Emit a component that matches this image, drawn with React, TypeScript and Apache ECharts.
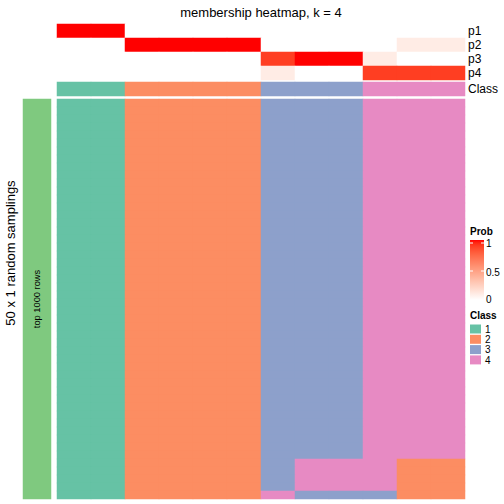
import React, { useEffect, useRef } from "react";
import * as echarts from "echarts";

// ---- data ----
const samples = ["s1", "s2", "s3", "s4", "s5", "s6", "s7", "s8", "s9", "s10", "s11", "s12"];
const probLevels = ["p1", "p2", "p3", "p4"];
const p1 = [1, 1, 0, 0, 0, 0, 0, 0, 0, 0, 0, 0];
const p2 = [0, 0, 1, 1, 1, 1, 0, 0, 0, 0, 0.1, 0.1];
const p3 = [0, 0, 0, 0, 0, 0, 0.9, 1, 1, 0.1, 0, 0];
const p4 = [0, 0, 0, 0, 0, 0, 0.1, 0, 0, 0.9, 0.9, 0.9];
const consensusClass = [1, 1, 2, 2, 2, 2, 3, 3, 3, 4, 4, 4];
// 50 random samplings: class assigned to each sample (one char per sample)
const samplingRows: string[] = [
  "112222333444", "112222333444", "112222333444", "112222333444", "112222333444",
  "112222333444", "112222333444", "112222333444", "112222333444", "112222333444",
  "112222333444", "112222333444", "112222333444", "112222333444", "112222333444",
  "112222333444", "112222333444", "112222333444", "112222333444", "112222333444",
  "112222333444", "112222333444", "112222333444", "112222333444", "112222333444",
  "112222333444", "112222333444", "112222333444", "112222333444", "112222333444",
  "112222333444", "112222333444", "112222333444", "112222333444", "112222333444",
  "112222333444", "112222333444", "112222333444", "112222333444", "112222333444",
  "112222333444", "112222333444", "112222333444", "112222333444", "112222333444",
  "112222344422", "112222344422", "112222344422", "112222344422",
  "112222433322",
];
const classLabels = ["1", "2", "3", "4"];
const probTicks = ["1", "0.5", "0"];

// ---- styling helpers ----
const classColors: Record<number, string> = { 0: "#7FC97F", 1: "#66C2A5", 2: "#FC8D62", 3: "#8DA0CB", 4: "#E78AC3" };
const FONT = "Liberation Sans, Arial, Helvetica, sans-serif";

function toLin(c: number) { c /= 255; return c <= 0.04045 ? c / 12.92 : Math.pow((c + 0.055) / 1.055, 2.4); }
function fromLin(c: number) { const v = c <= 0.0031308 ? 12.92 * c : 1.055 * Math.pow(c, 1 / 2.4) - 0.055; return Math.round(Math.max(0, Math.min(1, v)) * 255); }
function rgbToLab(r: number, g: number, b: number) {
  const R = toLin(r), G = toLin(g), B = toLin(b);
  const X = (0.4124 * R + 0.3576 * G + 0.1805 * B) / 0.95047;
  const Y = 0.2126 * R + 0.7152 * G + 0.0722 * B;
  const Z = (0.0193 * R + 0.1192 * G + 0.9505 * B) / 1.08883;
  const f = (t: number) => (t > 0.008856 ? Math.cbrt(t) : 7.787 * t + 16 / 116);
  const fx = f(X), fy = f(Y), fz = f(Z);
  return [116 * fy - 16, 500 * (fx - fy), 200 * (fy - fz)];
}
function labToHex(L: number, a: number, b: number) {
  const fy = (L + 16) / 116, fx = fy + a / 500, fz = fy - b / 200;
  const inv = (t: number) => (t * t * t > 0.008856 ? t * t * t : (t - 16 / 116) / 7.787);
  const X = inv(fx) * 0.95047, Y = inv(fy), Z = inv(fz) * 1.08883;
  const R = 3.2406 * X - 1.5372 * Y - 0.4986 * Z;
  const G = -0.9689 * X + 1.8758 * Y + 0.0415 * Z;
  const B = 0.0557 * X - 0.204 * Y + 1.057 * Z;
  const h = (n: number) => n.toString(16).padStart(2, "0");
  return "#" + h(fromLin(R)) + h(fromLin(G)) + h(fromLin(B));
}
const labW = rgbToLab(255, 255, 255);
const labR = rgbToLab(255, 0, 0);
function probColor(t: number) {
  return labToHex(labW[0] + (labR[0] - labW[0]) * t, labW[1] + (labR[1] - labW[1]) * t, labW[2] + (labR[2] - labW[2]) * t);
}
const rampStops: string[] = [];
for (let i = 0; i <= 20; i++) rampStops.push(probColor(i / 20));

// ---- layout ----
const L = 57, W = 408;

export default function App() {
  const ref = useRef<HTMLDivElement>(null);
  useEffect(() => {
    if (!ref.current) return;
    const chart = echarts.init(ref.current, null, { renderer: "svg" });

    const probRows = [p1, p2, p3, p4];
    const probData: number[][] = [];
    probRows.forEach((row, r) => row.forEach((v, c) => probData.push([c, r, v])));
    const classData = consensusClass.map((v, c) => [c, 0, v]);
    const mainRows = samplingRows.map((_, i) => String(i + 1));
    const mainData: number[][] = [];
    samplingRows.forEach((row, r) => row.split("").forEach((ch, c) => mainData.push([c, r, Number(ch)])));

    const hiddenX = (gridIndex: number) => ({
      type: "category", gridIndex, data: samples, show: false,
    });
    const hiddenY = (gridIndex: number, data: string[], showLabels: boolean) => ({
      type: "category", gridIndex, data, inverse: true, position: "right",
      axisLine: { show: false }, axisTick: { show: false }, splitLine: { show: false },
      axisLabel: { show: showLabels, interval: 0, margin: 3, color: "#000", fontSize: 12, fontFamily: FONT },
    });

    const legendGraphics: any[] = [];
    legendGraphics.push({ type: "text", x: 470, y: 231, style: { text: "Prob", font: `bold 10px ${FONT}`, fill: "#000", textVerticalAlign: "middle" } });
    legendGraphics.push({
      type: "rect", shape: { x: 470, y: 240, width: 14, height: 60 },
      style: { fill: new echarts.graphic.LinearGradient(0, 0, 0, 1, rampStops.map((c, i) => ({ offset: i / 20, color: rampStops[20 - i] }))) },
    });
    [243, 271].forEach((yy) => {
      legendGraphics.push({ type: "line", shape: { x1: 470, y1: yy, x2: 473, y2: yy }, style: { stroke: "#fff", lineWidth: 1 } });
      legendGraphics.push({ type: "line", shape: { x1: 481, y1: yy, x2: 484, y2: yy }, style: { stroke: "#fff", lineWidth: 1 } });
    });
    [243.5, 272, 299].forEach((yy, i) => {
      legendGraphics.push({ type: "text", x: 486, y: yy, style: { text: probTicks[i], font: `10px ${FONT}`, fill: "#000", textVerticalAlign: "middle" } });
    });
    legendGraphics.push({ type: "text", x: 470, y: 315, style: { text: "Class", font: `bold 10px ${FONT}`, fill: "#000", textVerticalAlign: "middle" } });
    classLabels.forEach((lab, i) => {
      const yy = 324.5 + i * 10.3;
      legendGraphics.push({ type: "rect", shape: { x: 470, y: yy, width: 11, height: 9 }, style: { fill: classColors[i + 1] } });
      legendGraphics.push({ type: "text", x: 485, y: yy + 4.8, style: { text: lab, font: `10px ${FONT}`, fill: "#000", textVerticalAlign: "middle" } });
    });

    chart.setOption({
      animation: false,
      backgroundColor: "#fff",
      textStyle: { fontFamily: FONT },
      grid: [
        { left: L, width: W, top: 24, height: 56 },
        { left: L, width: W, top: 82, height: 14 },
        { left: L, width: W, top: 99, height: 400 },
        { left: 23, width: 28, top: 99, height: 400 },
      ],
      xAxis: [hiddenX(0), hiddenX(1), hiddenX(2), { type: "category", gridIndex: 3, data: ["bar"], show: false }],
      yAxis: [
        hiddenY(0, probLevels, true),
        hiddenY(1, ["Class"], true),
        hiddenY(2, mainRows, false),
        { type: "category", gridIndex: 3, data: ["top 1000 rows"], show: false },
      ],
      visualMap: [
        { type: "continuous", show: false, seriesIndex: 0, min: 0, max: 1, inRange: { color: rampStops } },
        {
          type: "piecewise", show: false, seriesIndex: [1, 2, 3],
          pieces: [0, 1, 2, 3, 4].map((v) => ({ value: v, color: classColors[v] })),
        },
      ],
      series: [
        { type: "heatmap", xAxisIndex: 0, yAxisIndex: 0, data: probData, itemStyle: { borderWidth: 0 } },
        { type: "heatmap", xAxisIndex: 1, yAxisIndex: 1, data: classData, itemStyle: { borderWidth: 0 } },
        { type: "heatmap", xAxisIndex: 2, yAxisIndex: 2, data: mainData, itemStyle: { borderWidth: 0 } },
        { type: "heatmap", xAxisIndex: 3, yAxisIndex: 3, data: [[0, 0, 0]], itemStyle: { borderWidth: 0 } },
      ],
      graphic: [
        { type: "text", z: 100, x: 261, y: 12, style: { text: "membership heatmap, k = 4", font: `13px ${FONT}`, fill: "#000", textAlign: "center", textVerticalAlign: "middle" } },
        { type: "text", z: 100, x: 10, y: 253, rotation: Math.PI / 2, style: { text: "50 x 1 random samplings", font: `13px ${FONT}`, fill: "#000", textAlign: "center", textVerticalAlign: "middle" } },
        { type: "text", z: 100, x: 37, y: 299, rotation: Math.PI / 2, style: { text: "top 1000 rows", font: `9.3px ${FONT}`, fill: "#000", textAlign: "center", textVerticalAlign: "middle" } },
        ...legendGraphics.map((g) => ({ ...g, z: 100 })),
      ],
    });
    return () => chart.dispose();
  }, []);
  return <div ref={ref} style={{ position: "fixed", left: 0, top: 0, width: 504, height: 504 }} />;
}
